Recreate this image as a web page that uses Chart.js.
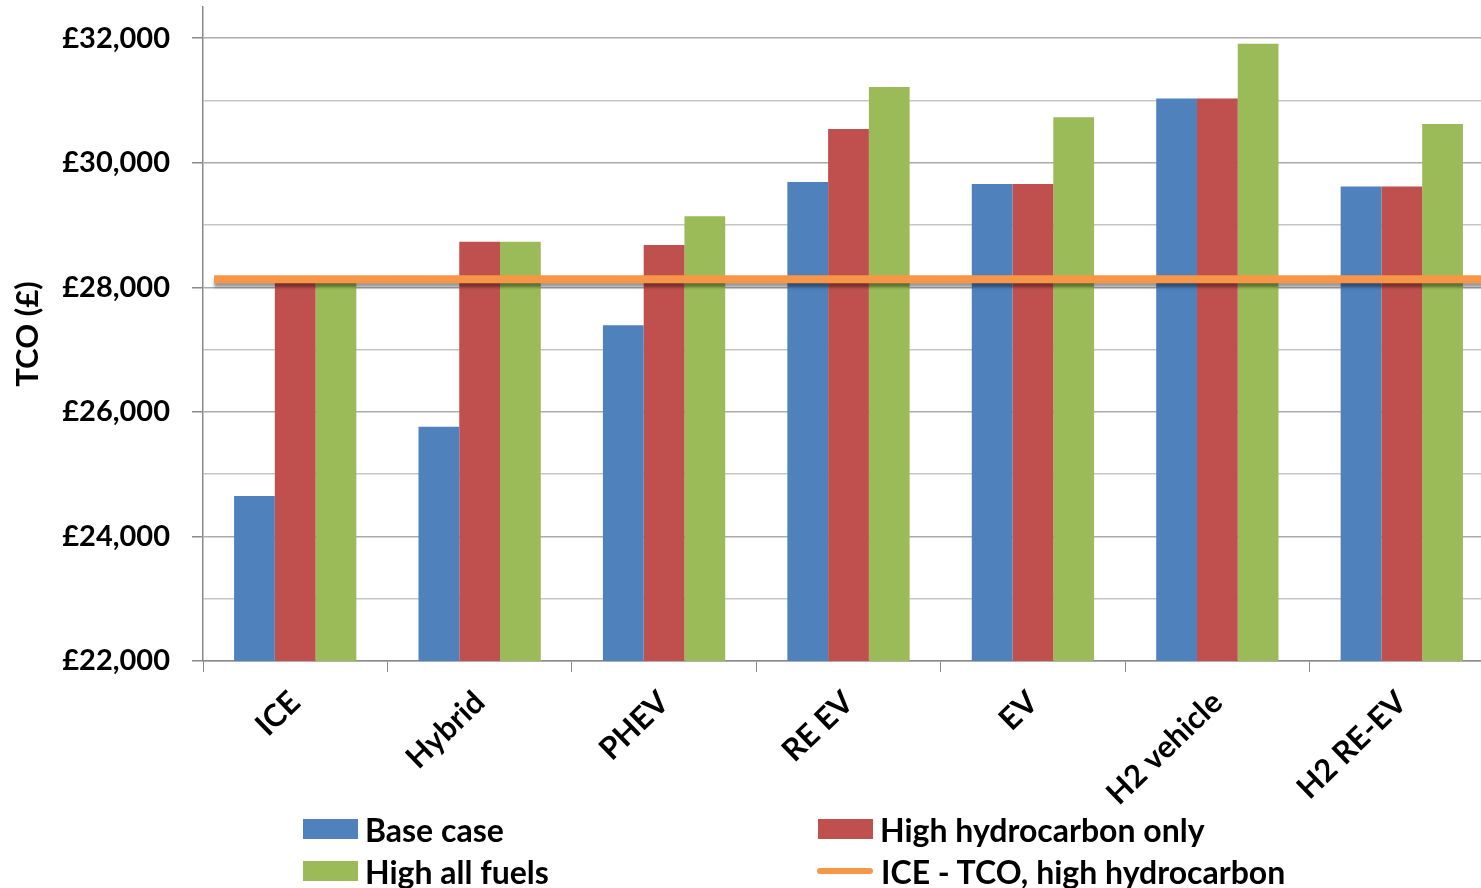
<!DOCTYPE html>
<html>
<head>
<meta charset="utf-8">
<script src="https://cdn.jsdelivr.net/npm/chart.js@4.4.1/dist/chart.umd.min.js"></script>
<style>
  body { margin: 0; overflow: hidden; background: #fff; }
  #wrap { position: relative; width: 1481px; height: 888px; overflow: hidden; }
  #chart { position: absolute; left: 0; top: 0; }
  .item { position: absolute; display: flex; align-items: center; white-space: nowrap;
          font: bold 32px Lato, sans-serif; color: #000; height: 40px; }
  .box { width: 55px; height: 20px; margin-right: 7px; }
  .bar { width: 56px; height: 6px; border-radius: 3px; margin-right: 8px; }
</style>
</head>
<body>
<div id="wrap">
  <canvas id="chart" width="1520" height="888"></canvas>
  <div class="item" style="left:303px; top:809px"><span class="box" style="background:#4f81bd"></span>Base case</div>
  <div class="item" style="left:818px; top:809px"><span class="box" style="background:#c0504d"></span>High hydrocarbon only</div>
  <div class="item" style="left:303px; top:851px"><span class="box" style="background:#9bbb59"></span>High all fuels</div>
  <div class="item" style="left:817px; top:851px"><span class="bar" style="background:#f79646"></span>ICE - TCO, high hydrocarbon</div>
</div>
<script>
// values (£)
const categories = ['ICE', 'Hybrid', 'PHEV', 'RE EV', 'EV', 'H2 vehicle', 'H2 RE-EV'];
const baseCase = [24650, 25760, 27390, 29690, 29660, 31030, 29620];
const highHydrocarbon = [28130, 28730, 28680, 30540, 29660, 31030, 29620];
const highAllFuels = [28130, 28730, 29140, 31215, 30730, 31910, 30620];
const iceHighTco = 28130;
const yMin = 22000, yMax = 32500, labelStep = 2000, gridStep = 1000;

const FONT = 'Lato, sans-serif';

// the orange "ICE - TCO" reference line, placed through the y scale,
// starting a little before the first category and running off the right edge
const refLine = {
  id: 'refLine',
  afterDatasetsDraw(chart) {
    const { ctx, chartArea, scales } = chart;
    const y = scales.y.getPixelForValue(iceHighTco);
    const x0 = scales.x.getPixelForDecimal(0.06 / categories.length);
    ctx.save();
    ctx.beginPath();
    ctx.rect(chartArea.left, chartArea.top, chartArea.right - chartArea.left, chartArea.bottom - chartArea.top);
    ctx.clip();
    ctx.shadowColor = 'rgba(0,0,0,0.4)';
    ctx.shadowOffsetY = 4;
    ctx.shadowBlur = 3;
    ctx.strokeStyle = '#f79646';
    ctx.lineWidth = 8;
    ctx.beginPath();
    ctx.moveTo(x0, y);
    ctx.lineTo(chartArea.right, y);
    ctx.stroke();
    ctx.restore();
  }
};

const barStyle = { type: 'bar', categoryPercentage: 0.663, barPercentage: 1.0 };

new Chart(document.getElementById('chart'), {
  data: {
    labels: categories,
    datasets: [
      { ...barStyle, label: 'Base case', data: baseCase, backgroundColor: '#4f81bd' },
      { ...barStyle, label: 'High hydrocarbon only', data: highHydrocarbon, backgroundColor: '#c0504d' },
      { ...barStyle, label: 'High all fuels', data: highAllFuels, backgroundColor: '#9bbb59' }
    ]
  },
  options: {
    responsive: false,
    animation: false,
    devicePixelRatio: 1,
    layout: { padding: { top: 7, right: 26, bottom: 0, left: 0 } },
    plugins: { legend: { display: false }, tooltip: { enabled: false } },
    scales: {
      x: {
        grid: { display: true, drawOnChartArea: false, offset: true, color: '#8a8a8a', tickLength: 11 },
        border: { display: true, color: '#8a8a8a', width: 1.5 },
        ticks: {
          autoSkip: false, minRotation: 44, maxRotation: 44, padding: 12,
          color: '#000', font: { family: FONT, weight: 'bold', size: 31 }
        },
        afterFit(scale) { scale.height = 227; }
      },
      y: {
        min: yMin, max: yMax,
        afterBuildTicks(scale) {
          const ticks = [];
          for (let v = yMin; v <= yMax; v += gridStep) ticks.push({ value: v });
          scale.ticks = ticks;
        },
        grid: {
          color: c => (c.tick.value % labelStep === 0 ? '#ababab' : '#c6c6c6'),
          tickColor: c => (c.tick.value % labelStep === 0 ? '#8a8a8a' : 'rgba(0,0,0,0)'),
          tickLength: 11, lineWidth: 1.5
        },
        border: { display: true, color: '#8a8a8a', width: 1.5 },
        ticks: {
          autoSkip: false, padding: 22,
          color: '#000', font: { family: FONT, weight: 'bold', size: 29 },
          callback: v => (v % labelStep === 0 ? '£' + v.toLocaleString('en-GB') : '')
        },
        title: {
          display: true, text: 'TCO (£)', color: '#000',
          font: { family: FONT, weight: 'bold', size: 31 }, padding: { top: 9, bottom: 0 }
        },
        afterFit(scale) { scale.width = 203; scale.paddingTop = 0; scale.paddingBottom = 0; }
      }
    }
  },
  plugins: [refLine]
});
</script>
</body>
</html>
